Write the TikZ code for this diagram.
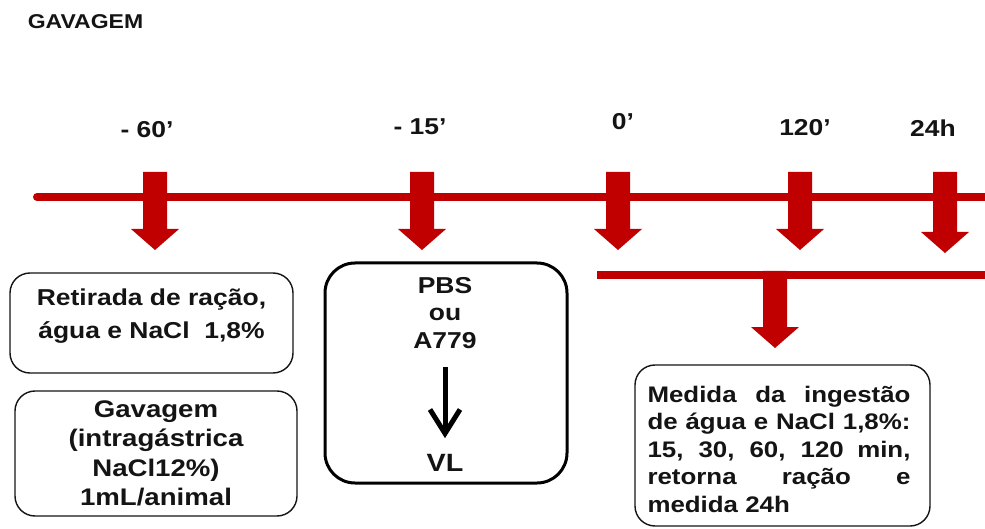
\documentclass[tikz,border=0pt]{standalone}
\usepackage{fontspec}
\setmainfont{Liberation Sans}[FakeStretch=1.15]
\usetikzlibrary{arrows.meta}
\definecolor{tlred}{RGB}{192,0,0}
\definecolor{ink}{RGB}{20,20,20}
\tikzset{
  txt/.style={inner sep=0pt, align=center, text=ink, font=\bfseries},
  roundbox/.style={draw=ink, line width=1.4pt, rounded corners=20pt, fill=white},
  thickbox/.style={draw=black, line width=3pt, rounded corners=30pt, fill=white},
  timeline/.style={draw=tlred, line width=8pt},
  pics/blockarrow/.style={code={
    \fill[tlred] (-12,0) -- (12,0) -- (12,#1) -- (24,#1) -- (0,#1+21) -- (-24,#1) -- (-12,#1) -- cycle;}},
  flowarrow/.style={draw=black, line width=5pt, -{Straight Barb[length=24pt,width=30pt]}}
}
\begin{document}
\begin{tikzpicture}[x=1pt,y=-1pt]
\useasboundingbox[fill=white] (0,0) rectangle (985,529);

% title
\node[txt, font=\bfseries\fontsize{20}{24}\selectfont] (title) at (85.5,22) {GAVAGEM};

% time labels
\node[txt, font=\bfseries\fontsize{23}{27}\selectfont] (t60) at (147,130) {- 60’};
\node[txt, font=\bfseries\fontsize{23}{27}\selectfont] (t15) at (420,127) {- 15’};
\node[txt, font=\bfseries\fontsize{23}{27}\selectfont] (t0) at (623,122) {0’};
\node[txt, font=\bfseries\fontsize{23}{27}\selectfont] (t120) at (805,128) {120’};
\node[txt, font=\bfseries\fontsize{23}{27}\selectfont] (t24) at (933,128) {24h};

% timeline
\coordinate (tlA) at (37,197);
\coordinate (tlB) at (990,197);
\draw[timeline, line cap=round] (tlA) -- (tlB);
\coordinate (tlC) at (597,275);
\coordinate (tlD) at (985,275);
\draw[timeline] (tlC) -- (tlD);

% block arrows
\pic at (155,172) {blockarrow=57};
\pic at (422,172) {blockarrow=57};
\pic at (618,172) {blockarrow=57};
\pic at (800,172) {blockarrow=57};
\pic at (945,172) {blockarrow=60};
\pic at (775,271) {blockarrow=56};

% box 1
\node[roundbox, minimum width=283, minimum height=100] (b1) at (151.5,323) {};
\node[txt, anchor=north, font=\bfseries\fontsize{23}{33}\selectfont] (b1t) at ([yshift=-16pt]b1.north) {Retirada de ração,\\água e NaCl\ \ 1,8\%};

% box 2
\node[roundbox, minimum width=282, minimum height=125, txt, draw=ink, inner sep=0pt,
      font=\bfseries\fontsize{24}{29.5}\selectfont] (b2) at (156,453.5)
  {Gavagem\\(intragástrica\\NaCl12\%)\\1mL/animal};

% box 3
\node[thickbox, minimum width=242, minimum height=220] (b3) at (446,373) {};
\node[txt, font=\bfseries\fontsize{23}{27.5}\selectfont] (pbs) at (445,313) {PBS\\ou\\A779};
\node[txt, font=\bfseries\fontsize{25}{30}\selectfont] (vl) at (445,463) {VL};
\draw[flowarrow, shorten <=18pt, shorten >=16pt] (pbs.south) -- (vl.north);

% box 4
\node[roundbox, minimum width=295, minimum height=161, inner xsep=16pt, inner ysep=4pt, text=ink] (b4) at (782.5,445.5) {};
\node[txt, align=left] (b4t) at (779,449)
  {\parbox{263pt}{\bfseries\fontsize{22.5}{27.5}\selectfont
   Medida da ingestão\linebreak de água e NaCl 1,8\%:\linebreak 15, 30, 60, 120 min,\linebreak retorna ração e\linebreak medida 24h}};
\end{tikzpicture}
\end{document}
